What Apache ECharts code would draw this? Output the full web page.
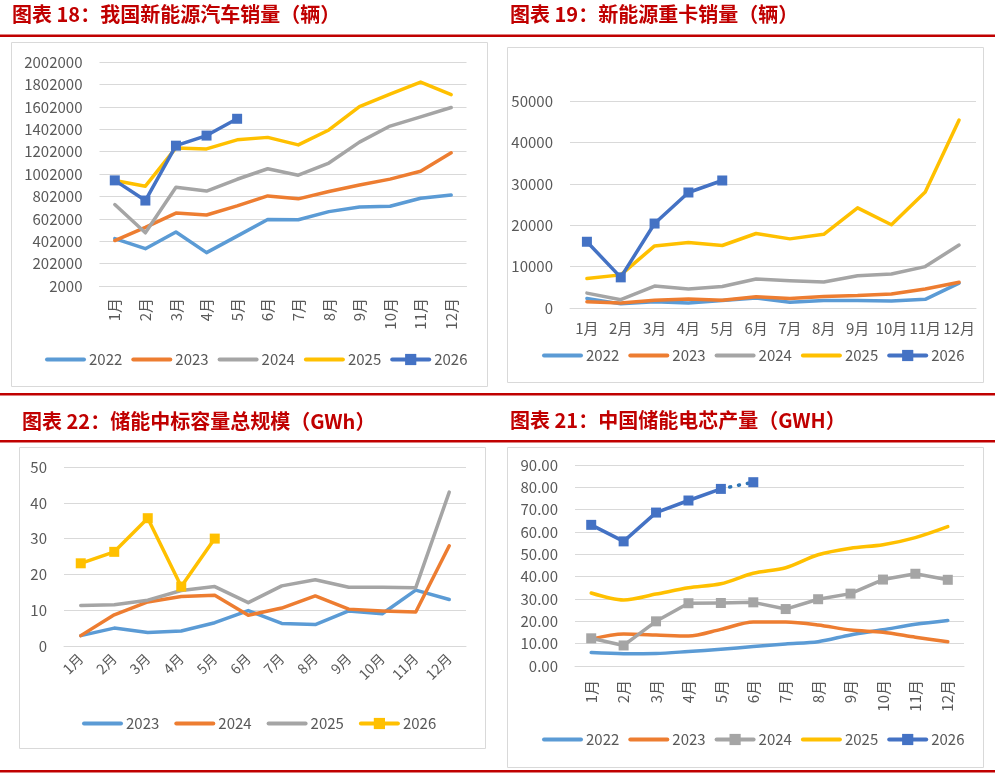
<!DOCTYPE html>
<html>
<head>
<meta charset="utf-8">
<title>新能源汽车与储能数据</title>
<script src="https://cdn.jsdelivr.net/npm/echarts@6.0.0/dist/echarts.min.js"></script>
<style>
    html, body { margin: 0; padding: 0; background: #fff; }
    #wrap { position: relative; width: 1000px; height: 778px; overflow: hidden; }
    .panel { position: absolute; width: 500px; }
</style>
</head>
<body>
<div id="wrap">
    <div class="panel" id="tl" style="left:0;top:0;height:390px;"></div>
    <div class="panel" id="tr" style="left:500px;top:0;height:390px;"></div>
    <div class="panel" id="bl" style="left:0;top:390px;height:388px;"></div>
    <div class="panel" id="br" style="left:500px;top:390px;height:388px;"></div>
</div>
<script>
var months = ['1月', '2月', '3月', '4月', '5月', '6月', '7月', '8月', '9月', '10月', '11月', '12月'];

// 图表18 新能源汽车销量（辆）
var ev2022 = [425000, 335000, 484000, 300000, 447000, 596000, 593000, 666000, 708000, 714000, 786000, 814000];
var ev2023 = [408000, 525000, 653000, 636000, 717000, 806000, 780000, 846000, 904000, 956000, 1026000, 1191000];
var ev2024 = [729000, 477000, 883000, 850000, 955000, 1049000, 991000, 1100000, 1287000, 1430000, 1512000, 1596000];
var ev2025 = [944000, 893000, 1235000, 1226000, 1307000, 1329000, 1262000, 1395000, 1604000, 1715000, 1823000, 1710000];
var ev2026 = [945000, 765000, 1255000, 1345000, 1495000];

// 图表19 新能源重卡销量（辆）
var hd2022 = [2300, 1000, 1500, 1200, 1800, 2400, 1400, 1800, 1800, 1700, 2100, 6000];
var hd2023 = [1500, 1200, 1900, 2200, 1900, 2700, 2300, 2800, 3000, 3400, 4600, 6200];
var hd2024 = [3600, 2000, 5300, 4600, 5200, 7000, 6600, 6300, 7800, 8200, 10000, 15200];
var hd2025 = [7100, 8000, 15000, 15800, 15100, 18000, 16700, 17800, 24200, 20100, 28000, 45400];
var hd2026 = [16000, 7400, 20400, 27900, 30800];

// 图表22 储能中标容量总规模（GWh）
var bid2023 = [2.9, 5.0, 3.8, 4.2, 6.5, 9.9, 6.3, 6.0, 9.8, 9.0, 15.6, 13.0];
var bid2024 = [2.9, 8.7, 12.3, 13.8, 14.2, 8.6, 10.6, 14.0, 10.3, 9.8, 9.5, 28.0];
var bid2025 = [11.3, 11.5, 12.8, 15.5, 16.6, 12.1, 16.8, 18.5, 16.4, 16.4, 16.3, 43.0];
var bid2026 = [23.1, 26.3, 35.7, 16.6, 30.0];

// 图表21 中国储能电芯产量（GWH）
var cell2022 = [6.0, 5.5, 5.6, 6.5, 7.5, 8.7, 9.9, 10.9, 13.9, 16.2, 18.7, 20.4];
var cell2023 = [12.0, 14.3, 13.9, 13.4, 16.4, 19.7, 19.7, 18.4, 16.1, 15.1, 12.9, 10.9];
var cell2024 = [12.4, 9.2, 20.0, 28.1, 28.2, 28.5, 25.5, 29.9, 32.4, 38.7, 41.3, 38.6];
var cell2025 = [32.7, 29.6, 32.2, 35.0, 36.8, 41.5, 44.0, 49.8, 52.7, 54.3, 57.5, 62.4];
var cell2026 = [63.2, 55.8, 68.7, 74.1, 79.3, 82.3];

var C_BLUE = '#5B9BD5', C_ORANGE = '#ED7D31', C_GRAY = '#A5A5A5', C_YELLOW = '#FFC000', C_DBLUE = '#4472C4';
var RED = '#C00000';
var TXT = '#595959';
var FONT = "'Noto Sans CJK SC', 'Noto Sans', sans-serif";

function line(name, data, color, marker, smooth) {
    return {
        name: name,
        type: 'line',
        data: data,
        symbol: marker ? 'rect' : 'none',
        symbolSize: 10,
        smooth: smooth ? 0.3 : false,
        lineStyle: { width: 3.5, color: color, cap: 'round', join: 'round' },
        itemStyle: { color: color },
        emphasis: { disabled: true }
    };
}

function redBar(y, w) {
    return { type: 'rect', shape: { x: 0, y: y, width: w, height: 2.5 }, style: { fill: RED }, silent: true };
}

function frame(x, y, w, h) {
    return { type: 'rect', shape: { x: x, y: y, width: w, height: h }, style: { fill: 'none', stroke: '#D9D9D9', lineWidth: 1 }, silent: true };
}

// 图例：无标记的系列只显示线段
function legendItems(series) {
    return series.filter(function (s) { return s.name; }).map(function (s) {
        var item = { name: s.name, lineStyle: { width: 4, color: s.lineStyle.color } };
        if (s.symbol === 'none') item.itemStyle = { opacity: 0 };
        return item;
    });
}

// 通用的面板配置
function panel(cfg) {
    return {
        animation: false,
        textStyle: { fontFamily: FONT },
        title: {
            text: cfg.title,
            left: cfg.titleLeft,
            top: cfg.titleTop,
            padding: 0,
            textStyle: { fontSize: 20, fontWeight: 'bold', color: RED, fontFamily: FONT }
        },
        graphic: cfg.graphic,
        grid: cfg.grid,
        legend: {
            left: cfg.legendLeft,
            top: cfg.legendTop,
            padding: 0,
            itemWidth: 37,
            itemHeight: 14,
            itemGap: cfg.legendGap || 9,
            selectedMode: false,
            data: legendItems(cfg.series),
            textStyle: { fontSize: 15, color: TXT, fontFamily: FONT }
        },
        xAxis: {
            type: 'category',
            boundaryGap: true,
            data: months,
            axisLine: { lineStyle: { color: '#D9D9D9', width: 1 } },
            axisTick: { show: false },
            axisLabel: {
                interval: 0,
                rotate: cfg.rotate || 0,
                margin: cfg.xMargin,
                color: TXT,
                fontSize: cfg.xFont || 15,
                fontFamily: FONT
            }
        },
        yAxis: {
            type: 'value',
            min: cfg.min,
            max: cfg.max,
            interval: cfg.interval,
            axisLine: { show: false },
            axisTick: { show: false },
            splitLine: { lineStyle: { color: '#D9D9D9', width: 1 } },
            axisLabel: {
                margin: 17,
                color: TXT,
                fontSize: 15,
                fontFamily: FONT,
                formatter: cfg.yFormat || function (v) { return String(v); }
            }
        },
        series: cfg.series
    };
}

var chartTL = echarts.init(document.getElementById('tl'));
chartTL.setOption(panel({
    title: '图表 18：我国新能源汽车销量（辆）',
    titleLeft: 12, titleTop: 4,
    graphic: [redBar(34.5, 500), frame(11.5, 42.5, 476, 344)],
    grid: { left: 99.5, top: 62, width: 367, height: 224 },
    legendLeft: 45, legendTop: 352,
    rotate: 90, xMargin: 12,
    min: 2000, max: 2002000, interval: 200000,
    series: [
        line('2022', ev2022, C_BLUE),
        line('2023', ev2023, C_ORANGE),
        line('2024', ev2024, C_GRAY),
        line('2025', ev2025, C_YELLOW),
        line('2026', ev2026, C_DBLUE, true)
    ]
}));

var chartTR = echarts.init(document.getElementById('tr'));
chartTR.setOption(panel({
    title: '图表 19：新能源重卡销量（辆）',
    titleLeft: 10, titleTop: 4,
    graphic: [redBar(34.5, 495), frame(7.5, 47.5, 476, 335)],
    grid: { left: 70, top: 101, width: 406, height: 207 },
    legendLeft: 42, legendTop: 348,
    xMargin: 13,
    min: 0, max: 50000, interval: 10000,
    series: [
        line('2022', hd2022, C_BLUE),
        line('2023', hd2023, C_ORANGE),
        line('2024', hd2024, C_GRAY),
        line('2025', hd2025, C_YELLOW),
        line('2026', hd2026, C_DBLUE, true)
    ]
}));

var chartBL = echarts.init(document.getElementById('bl'));
chartBL.setOption(panel({
    title: '图表 22：储能中标容量总规模（GWh）',
    titleLeft: 22, titleTop: 21,
    graphic: [redBar(3, 500), redBar(50, 500), redBar(380, 500), frame(19.5, 57.5, 466, 301)],
    grid: { left: 64, top: 77, width: 402, height: 179 },
    legendLeft: 82, legendTop: 326, legendGap: 15,
    rotate: 45, xMargin: 10, xFont: 14,
    min: 0, max: 50, interval: 10,
    series: [
        line('2023', bid2023, C_BLUE),
        line('2024', bid2024, C_ORANGE),
        line('2025', bid2025, C_GRAY),
        line('2026', bid2026, C_YELLOW, true)
    ]
}));

// 6月为预测值，用虚线连接
var cellSolid = cell2026.slice(0, 5);
var cellDotted = cell2026.map(function (v, i) {
    if (i < 4) return '-';
    if (i === 4) return { value: v, symbol: 'none' };
    return v;
});
var dotted = line('', cellDotted, C_DBLUE, true);
dotted.lineStyle.type = [1, 8];
dotted.lineStyle.color = '#2E75B6';

var chartBR = echarts.init(document.getElementById('br'));
chartBR.setOption(panel({
    title: '图表 21：中国储能电芯产量（GWH）',
    titleLeft: 10, titleTop: 20,
    graphic: [redBar(3, 495), redBar(50, 495), redBar(380, 495), frame(7.5, 57.5, 476, 320)],
    grid: { left: 75, top: 75, width: 389, height: 201 },
    legendLeft: 42, legendTop: 342,
    rotate: 90, xMargin: 14,
    min: 0, max: 90, interval: 10,
    yFormat: function (v) { return v.toFixed(2); },
    series: [
        line('2022', cell2022, C_BLUE, false, true),
        line('2023', cell2023, C_ORANGE, false, true),
        line('2024', cell2024, C_GRAY, true),
        line('2025', cell2025, C_YELLOW, false, true),
        dotted,
        line('2026', cellSolid, C_DBLUE, true)
    ]
}));
</script>
</body>
</html>
